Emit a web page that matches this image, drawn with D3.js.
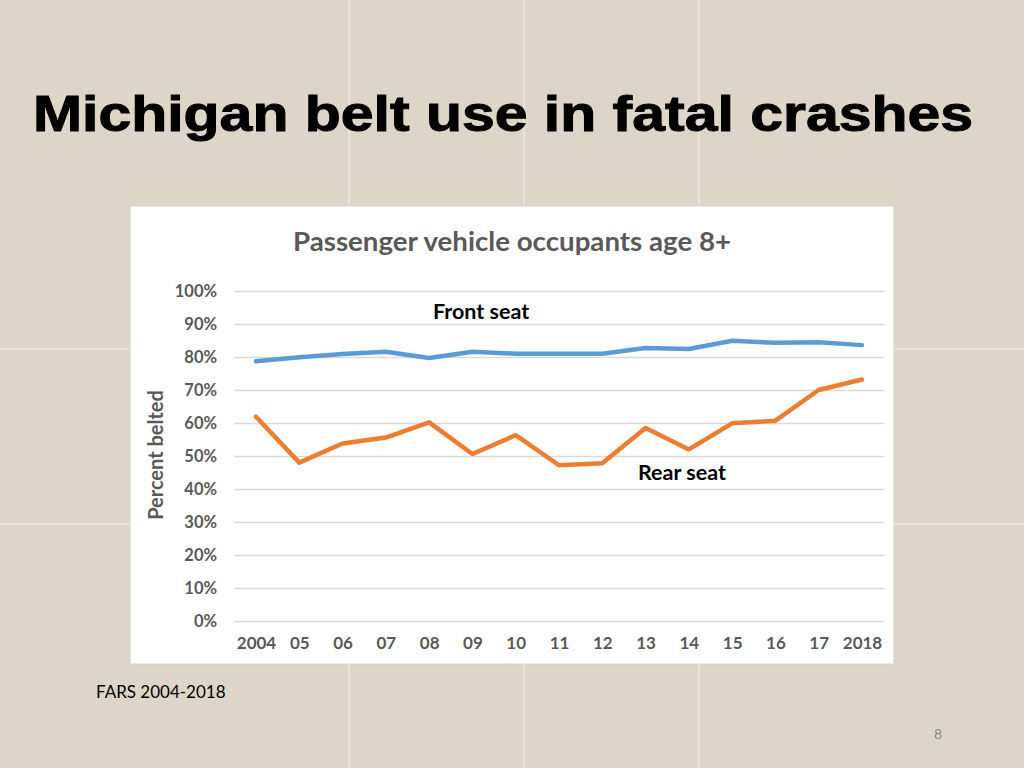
<!DOCTYPE html>
<html><head><meta charset="utf-8">
<script src="https://cdn.jsdelivr.net/npm/d3@7"></script>
<style>body{margin:0;padding:0;overflow:hidden}svg{display:block}</style>
</head><body>
<script>
const years = ["2004","05","06","07","08","09","10","11","12","13","14","15","16","17","2018"];
const frontSeat = [78.7,79.9,80.9,81.6,79.7,81.6,81.0,81.0,81.0,82.7,82.4,84.9,84.3,84.5,83.6];
const rearSeat  = [61.9,48.0,53.8,55.6,60.2,50.6,56.3,47.2,47.8,58.5,52.0,59.9,60.7,70.0,73.2];
const yTicks = [0,10,20,30,40,50,60,70,80,90,100];

const W=1024,H=768;
const svg=d3.select("body").append("svg").attr("width",W).attr("height",H);
// background
svg.append("rect").attr("width",W).attr("height",H).attr("fill","#ddd6c8");
svg.selectAll("line.tv").data([349,524,699]).enter().append("line")
  .attr("x1",d=>d).attr("x2",d=>d).attr("y1",0).attr("y2",H)
  .attr("stroke","#f4f0e8").attr("stroke-width",1);
svg.selectAll("line.th").data([349,524]).enter().append("line")
  .attr("y1",d=>d).attr("y2",d=>d).attr("x1",0).attr("x2",W)
  .attr("stroke","#f4f0e8").attr("stroke-width",1);

svg.append("text").attr("x",33).attr("y",131)
  .attr("font-family","Liberation Sans, Arial, sans-serif").attr("font-weight","bold")
  .attr("font-size",50).attr("fill","#000").attr("stroke","#000").attr("stroke-width",1)
  .attr("textLength",940).attr("lengthAdjust","spacingAndGlyphs")
  .text("Michigan belt use in fatal crashes");

// chart panel
svg.append("rect").attr("x",130).attr("y",206).attr("width",764).attr("height",458)
  .attr("fill","#fff").attr("stroke","#d4d2cd").attr("stroke-width",1);

const F="Lato, 'Open Sans', sans-serif";
const x=d3.scalePoint().domain(years).range([256,862]);
const y=d3.scaleLinear().domain([0,100]).range([621,291]);

svg.append("text").attr("x",512).attr("y",251).attr("text-anchor","middle")
  .attr("font-family",F).attr("font-weight","bold").attr("font-size",26).attr("fill","#595959")
  .attr("textLength",438).attr("lengthAdjust","spacingAndGlyphs")
  .text("Passenger vehicle occupants age 8+");

const gy=svg.append("g").attr("transform","translate(234,0)")
  .call(d3.axisLeft(y).tickValues(yTicks).tickSize(-650).tickFormat(d=>d+"%").tickPadding(17));
gy.select(".domain").remove();
gy.selectAll(".tick line").attr("stroke","#d9d9d9").attr("stroke-width",1.5);
gy.selectAll(".tick text").attr("font-family",F).attr("font-weight","bold").attr("font-size",16.5).attr("fill","#595959");

const gx=svg.append("g").attr("transform","translate(0,621)")
  .call(d3.axisBottom(x).tickSize(0).tickPadding(16));
gx.select(".domain").remove();
gx.selectAll(".tick text").attr("font-family",F).attr("font-weight","bold").attr("font-size",17).attr("fill","#595959");

svg.append("text").attr("transform","translate(163,455) rotate(-90)").attr("text-anchor","middle")
  .attr("font-family",F).attr("font-weight","bold").attr("font-size",20).attr("fill","#595959")
  .text("Percent belted");

const line=d3.line().x((d,i)=>x(years[i])).y(d=>y(d));
svg.append("path").datum(frontSeat).attr("d",line).attr("fill","none")
  .attr("stroke","#5b9bd5").attr("stroke-width",4.5).attr("stroke-linejoin","round").attr("stroke-linecap","round");
svg.append("path").datum(rearSeat).attr("d",line).attr("fill","none")
  .attr("stroke","#ed7d31").attr("stroke-width",4.5).attr("stroke-linejoin","round").attr("stroke-linecap","round");

svg.append("text").attr("x",433).attr("y",319).attr("font-family",F).attr("font-weight","bold")
  .attr("font-size",21.5).attr("fill","#000").text("Front seat");
svg.append("text").attr("x",638).attr("y",480).attr("font-family",F).attr("font-weight","bold")
  .attr("font-size",21.5).attr("fill","#000").text("Rear seat");

svg.append("text").attr("x",96).attr("y",698).attr("font-family",F)
  .attr("font-size",17).attr("fill","#000").text("FARS 2004-2018");
svg.append("text").attr("x",934).attr("y",739).attr("font-family",F)
  .attr("font-size",14).attr("fill","#8a8a8a").text("8");
</script>
</body></html>
